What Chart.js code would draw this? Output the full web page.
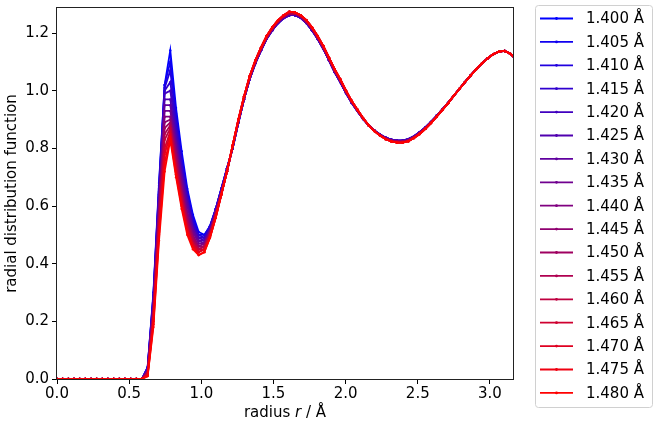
<!DOCTYPE html>
<html lang="en">
  <head>
    <meta charset="UTF-8" />
    <title>Radial distribution function</title>
    <script src="https://cdn.jsdelivr.net/npm/chart.js@4.4.1/dist/chart.umd.min.js"></script>
    <style>
      html, body { margin: 0; padding: 0; background: #fff; }
      #wrap { width: 658px; height: 428px; }
    </style>
  </head>
  <body>
    <div id="wrap"><canvas id="rdf"></canvas></div>

<script>
  // bond lengths (legend), in Å
  const bondLengths = ["1.400", "1.405", "1.410", "1.415", "1.420", "1.425", "1.430", "1.435", "1.440",
    "1.445", "1.450", "1.455", "1.460", "1.465", "1.470", "1.475", "1.480"];

  // radius grid r / Å
  const radius = [0.000, 0.039, 0.079, 0.118, 0.157, 0.196, 0.236, 0.275, 0.314, 0.353, 0.393, 0.432,
    0.471, 0.511, 0.550, 0.589, 0.628, 0.668, 0.707, 0.746, 0.785, 0.825, 0.864, 0.903, 0.942, 0.982,
    1.021, 1.060, 1.100, 1.139, 1.178, 1.217, 1.257, 1.296, 1.335, 1.374, 1.414, 1.453, 1.492, 1.532,
    1.571, 1.610, 1.649, 1.689, 1.728, 1.767, 1.806, 1.846, 1.885, 1.924, 1.963, 2.003, 2.042, 2.081,
    2.121, 2.160, 2.199, 2.238, 2.278, 2.317, 2.356, 2.395, 2.435, 2.474, 2.513, 2.553, 2.592, 2.631,
    2.670, 2.710, 2.749, 2.788, 2.827, 2.867, 2.906, 2.945, 2.985, 3.024, 3.063, 3.102, 3.142, 3.181];

  // g(r) below the first shell (r = 0 .. 0.589), same for every bond length
  const gInner = [0, 0, 0, 0, 0, 0, 0, 0, 0, 0, 0, 0, 0, 0, 0, 0];

  // g(r) for r = 0.628 .. 1.178 (first peak and first minimum), one row per bond length
  const gFirstShell = [
    [0.04, 0.30, 0.68, 1.02, 1.14, 0.94, 0.79, 0.66, 0.57, 0.51, 0.50, 0.53, 0.59, 0.66, 0.73],
    [0.04, 0.29, 0.67, 1.02, 1.10, 0.92, 0.77, 0.65, 0.56, 0.50, 0.50, 0.53, 0.59, 0.66, 0.73],
    [0.04, 0.29, 0.66, 1.01, 1.07, 0.90, 0.76, 0.64, 0.55, 0.50, 0.49, 0.53, 0.59, 0.66, 0.73],
    [0.035, 0.28, 0.65, 1.00, 1.03, 0.88, 0.74, 0.63, 0.54, 0.49, 0.49, 0.52, 0.59, 0.66, 0.73],
    [0.035, 0.27, 0.64, 0.99, 1.00, 0.86, 0.73, 0.62, 0.53, 0.49, 0.48, 0.52, 0.58, 0.65, 0.73],
    [0.03, 0.27, 0.63, 0.97, 0.97, 0.84, 0.71, 0.61, 0.52, 0.48, 0.48, 0.52, 0.58, 0.65, 0.73],
    [0.03, 0.26, 0.61, 0.95, 0.95, 0.82, 0.70, 0.60, 0.52, 0.48, 0.47, 0.51, 0.58, 0.65, 0.72],
    [0.03, 0.25, 0.60, 0.93, 0.93, 0.81, 0.69, 0.58, 0.51, 0.47, 0.47, 0.51, 0.58, 0.65, 0.72],
    [0.025, 0.24, 0.59, 0.91, 0.91, 0.79, 0.67, 0.57, 0.50, 0.46, 0.47, 0.51, 0.58, 0.65, 0.72],
    [0.025, 0.24, 0.58, 0.89, 0.90, 0.78, 0.66, 0.56, 0.49, 0.46, 0.46, 0.51, 0.57, 0.65, 0.72],
    [0.02, 0.23, 0.57, 0.87, 0.89, 0.77, 0.65, 0.55, 0.49, 0.45, 0.46, 0.50, 0.57, 0.64, 0.72],
    [0.02, 0.22, 0.55, 0.85, 0.88, 0.75, 0.64, 0.54, 0.48, 0.45, 0.46, 0.50, 0.57, 0.64, 0.72],
    [0.02, 0.21, 0.54, 0.83, 0.87, 0.74, 0.63, 0.53, 0.47, 0.45, 0.45, 0.50, 0.57, 0.64, 0.72],
    [0.015, 0.21, 0.53, 0.80, 0.86, 0.73, 0.62, 0.52, 0.47, 0.44, 0.45, 0.50, 0.56, 0.64, 0.72],
    [0.015, 0.20, 0.51, 0.78, 0.85, 0.72, 0.61, 0.52, 0.46, 0.44, 0.45, 0.49, 0.56, 0.64, 0.72],
    [0.01, 0.19, 0.50, 0.75, 0.84, 0.71, 0.60, 0.51, 0.46, 0.43, 0.44, 0.49, 0.56, 0.64, 0.72],
    [0.01, 0.18, 0.48, 0.72, 0.83, 0.70, 0.59, 0.50, 0.45, 0.43, 0.44, 0.49, 0.56, 0.64, 0.72],
  ];

  // g(r) for r = 1.217 .. 3.181 (second peak onwards), the curves almost overlap here
  const gOuterBlue = [0.80, 0.89, 0.97, 1.04, 1.095, 1.14, 1.18, 1.21, 1.235, 1.252, 1.262, 1.262, 1.253,
    1.235, 1.21, 1.18, 1.145, 1.105, 1.065, 1.03, 0.992, 0.958, 0.93, 0.902, 0.88, 0.862, 0.848, 0.837,
    0.83, 0.827, 0.827, 0.832, 0.842, 0.856, 0.873, 0.892, 0.913, 0.935, 0.958, 0.982, 1.006, 1.03,
    1.053, 1.075, 1.095, 1.113, 1.127, 1.136, 1.138, 1.128, 1.11];
  const gOuterPurple = [0.805, 0.895, 0.975, 1.045, 1.10, 1.145, 1.185, 1.215, 1.24, 1.257, 1.268, 1.267,
    1.258, 1.24, 1.215, 1.185, 1.15, 1.11, 1.07, 1.035, 0.996, 0.962, 0.932, 0.904, 0.88, 0.861, 0.846,
    0.834, 0.827, 0.823, 0.823, 0.828, 0.839, 0.853, 0.87, 0.89, 0.911, 0.934, 0.957, 0.982, 1.006, 1.03,
    1.053, 1.075, 1.095, 1.113, 1.127, 1.136, 1.138, 1.128, 1.11];
  const gOuterRed = [0.81, 0.90, 0.98, 1.05, 1.105, 1.15, 1.19, 1.22, 1.245, 1.262, 1.274, 1.272, 1.262,
    1.245, 1.22, 1.19, 1.155, 1.115, 1.075, 1.04, 1.0, 0.965, 0.935, 0.905, 0.88, 0.86, 0.845, 0.832,
    0.824, 0.82, 0.82, 0.825, 0.836, 0.85, 0.868, 0.888, 0.91, 0.933, 0.957, 0.982, 1.006, 1.03, 1.053,
    1.075, 1.095, 1.113, 1.127, 1.136, 1.138, 1.128, 1.11];

  // which outer curve each bond length follows
  const outerSet = [gOuterBlue, gOuterBlue, gOuterBlue, gOuterBlue, gOuterBlue, gOuterBlue,
    gOuterPurple, gOuterPurple, gOuterPurple, gOuterPurple, gOuterPurple, gOuterPurple,
    gOuterRed, gOuterRed, gOuterRed, gOuterRed, gOuterRed];

  const xTicks = [0.0, 0.5, 1.0, 1.5, 2.0, 2.5, 3.0];
  const yTicks = [0.0, 0.2, 0.4, 0.6, 0.8, 1.0, 1.2];

  const FONT = "'DejaVu Sans', sans-serif";
  const n = bondLengths.length;

  function corDe(i) {
    // blue -> red
    const t = i / (n - 1);
    return "rgb(" + Math.round(255 * t) + ",0," + Math.round(255 * (1 - t)) + ")";
  }

  const datasets = [];
  for (let i = 0; i < n; i++) {
    const g = gInner.concat(gFirstShell[i], outerSet[i]);
    const pts = [];
    for (let k = 0; k < radius.length; k++) {
      pts.push({ x: radius[k], y: g[k] });
    }
    datasets.push({
      label: bondLengths[i] + " Å",
      data: pts,
      borderColor: corDe(i),
      backgroundColor: corDe(i),
      borderWidth: 1.8,
      pointRadius: 1.2,
      pointBorderWidth: 0,
      pointHoverRadius: 0,
      tension: 0,
      clip: 0,
      order: n - 1 - i, // last (red) ends up on top
    });
  }

  // frame, axis titles and the boxed legend on the right
  const extras = {
    id: "extras",
    afterDraw(chart) {
      const ctx = chart.ctx;
      const a = chart.chartArea;
      ctx.save();

      ctx.strokeStyle = "#222";
      ctx.lineWidth = 1;
      ctx.strokeRect(Math.round(a.left) - 0.5, Math.round(a.top) - 0.5,
        Math.round(a.right - a.left) + 1, Math.round(a.bottom - a.top) + 1);

      ctx.fillStyle = "#000";
      ctx.textBaseline = "middle";

      // x title: radius r / Å (r in italics)
      const p1 = "radius ", p2 = "r", p3 = " / Å";
      ctx.font = "15px " + FONT;
      const w1 = ctx.measureText(p1).width, w3 = ctx.measureText(p3).width;
      ctx.font = "italic 15px " + FONT;
      const w2 = ctx.measureText(p2).width;
      let x = (a.left + a.right) / 2 - (w1 + w2 + w3) / 2;
      const yt = 413;
      ctx.textAlign = "left";
      ctx.font = "15px " + FONT;
      ctx.fillText(p1, x, yt);
      ctx.font = "italic 15px " + FONT;
      ctx.fillText(p2, x + w1, yt);
      ctx.font = "15px " + FONT;
      ctx.fillText(p3, x + w1 + w2, yt);

      // y title
      ctx.save();
      ctx.translate(12, (a.top + a.bottom) / 2);
      ctx.rotate(-Math.PI / 2);
      ctx.textAlign = "center";
      ctx.fillText("radial distribution function", 0, 0);
      ctx.restore();

      // legend box
      const lx = 535, ly = 5, lw = 117, lh = 402;
      ctx.beginPath();
      ctx.roundRect(lx + 0.5, ly + 0.5, lw, lh, 3);
      ctx.fillStyle = "rgba(255,255,255,0.8)";
      ctx.fill();
      ctx.strokeStyle = "#d0d0d0";
      ctx.stroke();

      ctx.textAlign = "left";
      ctx.font = "15px " + FONT;
      for (let i = 0; i < n; i++) {
        const yy = 18.5 + i * 23.4;
        ctx.strokeStyle = corDe(i);
        ctx.lineWidth = 1.8;
        ctx.beginPath();
        ctx.moveTo(540, yy);
        ctx.lineTo(573, yy);
        ctx.stroke();
        ctx.fillStyle = corDe(i);
        ctx.beginPath();
        ctx.arc(556.5, yy, 1.4, 0, Math.PI * 2);
        ctx.fill();
        ctx.fillStyle = "#000";
        ctx.fillText(datasets[i].label, 586, yy + 1);
      }
      ctx.restore();
    },
  };

  const ctx = document.getElementById("rdf");

  new Chart(ctx, {
    type: "line",
    data: { datasets: datasets },
    options: {
      responsive: true,
      maintainAspectRatio: false,
      animation: false,
      events: [],
      layout: { padding: { top: 8, right: 145, left: 0, bottom: 0 } },
      plugins: {
        legend: { display: false },
        tooltip: { enabled: false },
      },
      scales: {
        x: {
          type: "linear",
          min: 0,
          max: 3.16,
          afterFit(s) { s.height = 49; s.paddingLeft = 0; s.paddingRight = 0; },
          afterBuildTicks(s) { s.ticks = xTicks.map((v) => ({ value: v })); },
          grid: { drawOnChartArea: false, drawTicks: true, tickLength: 5, tickColor: "#000", tickWidth: 1 },
          border: { display: false },
          ticks: {
            font: { family: FONT, size: 15 },
            color: "#000",
            padding: 1,
            maxRotation: 0,
            callback: (v) => v.toFixed(1),
          },
        },
        y: {
          type: "linear",
          min: 0,
          max: 1.287,
          afterFit(s) { s.width = 57; s.paddingTop = 0; s.paddingBottom = 0; },
          afterBuildTicks(s) { s.ticks = yTicks.map((v) => ({ value: v })); },
          grid: { drawOnChartArea: false, drawTicks: true, tickLength: 5, tickColor: "#000", tickWidth: 1 },
          border: { display: false },
          ticks: {
            font: { family: FONT, size: 15 },
            color: "#000",
            padding: 3,
            callback: (v) => v.toFixed(1),
          },
        },
      },
    },
    plugins: [extras],
  });
</script>
  </body>
</html>
